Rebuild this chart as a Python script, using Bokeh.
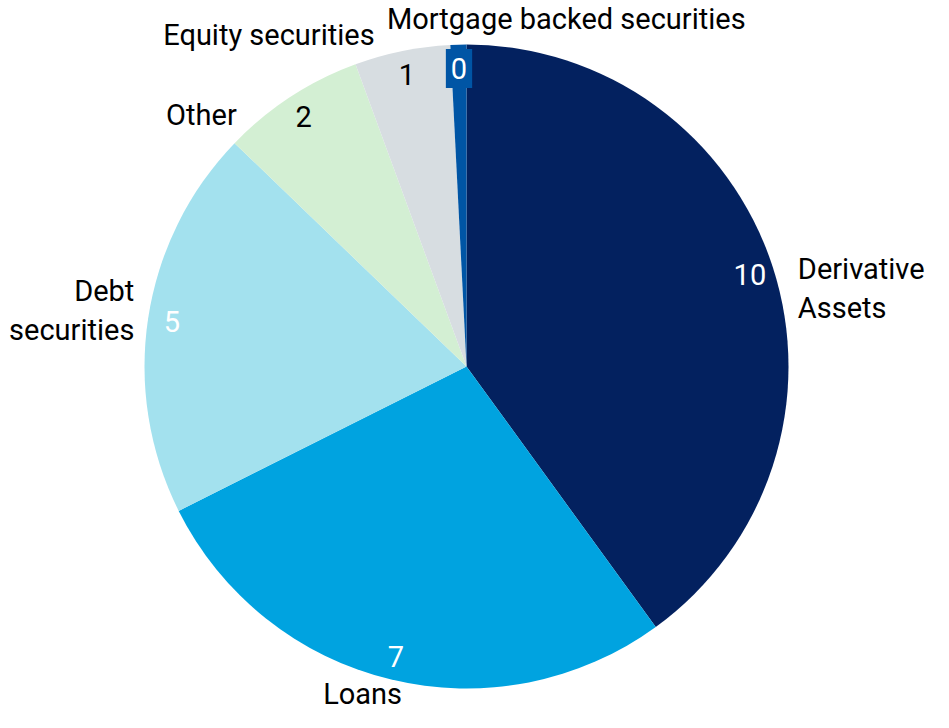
import numpy as np
from bokeh.plotting import figure
from bokeh.models import Range1d, ColumnDataSource
from bokeh.embed import file_html
from bokeh.resources import INLINE
from bokeh.core.properties import value

# ---- data ----
categories = ["Derivative\nAssets", "Loans", "Debt\nsecurities", "Other",
              "Equity securities", "Mortgage backed securities"]
values = [10.0, 6.9, 4.9, 1.8, 1.2, 0.2]
value_labels = ["10", "7", "5", "2", "1", "0"]

# ---- styles ----
colors = ["#03215F", "#00A3E0", "#A3E1EE", "#D3EFD3", "#D7DDE1", "#0055A5"]
value_label_colors = ["white", "white", "white", "black", "black", "white"]
label_align = ["left", "right", "right", "right", "right", "left"]
label_nudge = [(8, 27), (16, -3), (4, -5), (-44, 33), (-24, 2), (-71, -8)]  # px (dx, dy down)

W, H = 933, 712
cx, cy_top, r = 466, 366, 322
cy = H - cy_top
FONT = "Roboto"
FS = "29px"

vals = np.array(values)
frac = vals / vals.sum()
ends = np.cumsum(frac) * 2 * np.pi
starts = ends - frac * 2 * np.pi
mids = (starts + ends) / 2

p = figure(width=W, height=H, output_backend="svg", toolbar_location=None,
           x_range=Range1d(0, W), y_range=Range1d(0, H), min_border=0)
p.axis.visible = False
p.grid.visible = False
p.outline_line_color = None

src = ColumnDataSource(dict(
    start=np.pi / 2 - ends, end=np.pi / 2 - starts, color=colors))
p.wedge(x=cx, y=cy, radius=r, start_angle="start", end_angle="end",
        fill_color="color", line_color=None, source=src)

# value labels inside
d_in = r - 24
vx = cx + d_in * np.sin(mids)
vy = cy + d_in * np.cos(mids)
n = len(values)
main_idx = [i for i in range(n) if i != n - 1]
p.text(x=[vx[i] for i in main_idx], y=[vy[i] for i in main_idx],
       text=[value_labels[i] for i in main_idx],
       text_color=[value_label_colors[i] for i in main_idx],
       text_font=value(FONT), text_font_size=FS,
       text_align="center", text_baseline="middle")
i = n - 1
p.text(x=[vx[i]], y=[vy[i]], text=[value_labels[i]], text_color=value_label_colors[i],
       text_font=value(FONT), text_font_size=FS,
       text_align="center", text_baseline="middle",
       background_fill_color=colors[i], padding=(5, 9))

# category labels outside
d_out = r + 18
for i in range(n):
    lx = cx + d_out * np.sin(mids[i]) + label_nudge[i][0]
    ly = cy + d_out * np.cos(mids[i]) - label_nudge[i][1]
    p.text(x=[lx], y=[ly], text=[categories[i]], text_color="black",
           text_font=value(FONT), text_font_size=FS,
           text_align=label_align[i], text_baseline="middle",
           text_line_height=1.15)

open("out.html", "w").write(file_html(p, INLINE))
